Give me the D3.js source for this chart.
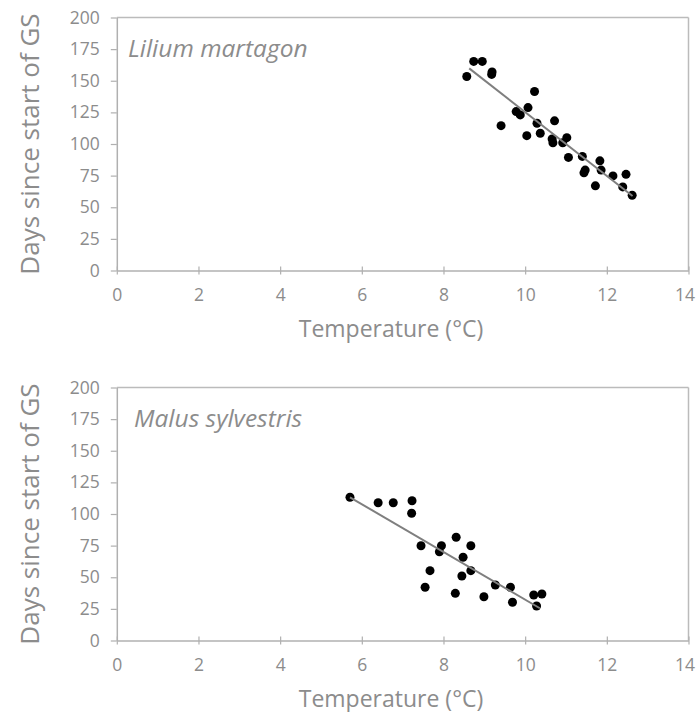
<!DOCTYPE html>
<html><head><meta charset="utf-8">
<script src="https://cdn.jsdelivr.net/npm/d3@7"></script>
<style>body{margin:0;background:#fff;} svg{display:block;} text{font-family:"Open Sans",sans-serif;}</style>
</head><body>
<script>
const xTicks = [0,2,4,6,8,10,12,14];
const yTicks = [0,25,50,75,100,125,150,175,200];
const xTitle = "Temperature (°C)";
const yTitle = "Days since start of GS";

const speciesNames = ["Lilium martagon","Malus sylvestris"];

const liliumTemp = [8.57,8.74,8.95,9.19,9.18,10.23,9.41,9.78,9.88,10.07,10.04,10.29,10.37,10.72,10.66,10.68,10.92,11.02,11.06,11.40,11.47,11.44,11.83,11.86,11.72,12.15,12.47,12.39,12.62];
const liliumDays = [153.4,165.3,165.3,156.9,155.0,141.5,114.5,125.6,123.0,128.8,106.6,116.4,108.5,118.3,104.0,101.0,101.0,105.0,89.4,90.2,79.4,77.2,86.7,79.4,66.9,74.8,76.0,66.1,59.5];
const liliumFitTemp = [8.63,12.63];
const liliumFitDays = [159.8,58.9];

const malusTemp = [5.71,6.40,6.77,7.23,7.22,8.31,7.45,7.95,7.90,8.67,8.48,8.67,8.45,7.67,7.55,8.29,8.99,9.27,9.64,9.69,10.21,10.41,10.28];
const malusDays = [113.2,108.9,108.9,110.5,100.6,81.6,74.9,74.9,70.2,74.9,65.8,55.2,51.0,55.2,42.1,37.3,34.6,43.9,42.1,30.2,36.0,36.8,27.3];
const malusFitTemp = [5.71,10.36];
const malusFitDays = [113.2,25.5];

const W = 696, H = 712;
const svg = d3.select("body").append("svg").attr("width",W).attr("height",H);
const gray = "#8c8c8c", axisCol = "#b0b0b0";

function panel(top, name, temps, days, fitT, fitD, labelX) {
  const x = d3.scaleLinear().domain([0,14]).range([116.8,688.5]);
  const y = d3.scaleLinear().domain([0,200]).range([top+253, top]);
  const g = svg.append("g");
  g.append("line").attr("x1",x(0)).attr("x2",x(14)).attr("y1",y(200)).attr("y2",y(200)).attr("stroke","#bbb").attr("stroke-width",1.5);
  g.append("line").attr("x1",x(14)).attr("x2",x(14)).attr("y1",y(200)).attr("y2",y(0)).attr("stroke","#bbb").attr("stroke-width",1.5);
  const xa = g.append("g").attr("transform",`translate(0,${y(0)})`)
    .call(d3.axisBottom(x).tickValues(xTicks).tickSize(5).tickPadding(13).tickSizeOuter(0));
  const ya = g.append("g").attr("transform",`translate(${x(0)},0)`)
    .call(d3.axisLeft(y).tickValues(yTicks).tickSize(6).tickPadding(11).tickSizeOuter(0));
  [xa,ya].forEach(a=>{
    a.select(".domain").attr("stroke",axisCol).attr("stroke-width",1.5);
    a.selectAll(".tick line").attr("stroke",axisCol).attr("stroke-width",1.2);
    a.selectAll(".tick text").attr("fill",gray).style("font-size","17.5px").style("font-family","'Open Sans',sans-serif");
  });
  xa.selectAll(".tick line").attr("y1",-4).attr("y2",4);
  xa.selectAll(".tick text").filter(d=>d===14).attr("dx",-4);
  g.append("text").attr("x",391).attr("y",y(0)+66).attr("text-anchor","middle")
    .attr("fill",gray).style("font-size","23px").text(xTitle);
  g.append("text").attr("transform",`translate(39,${(y(0)+y(200))/2}) rotate(-90)`).attr("text-anchor","middle")
    .attr("fill",gray).style("font-size","26px").text(yTitle);
  g.append("text").attr("x",labelX).attr("y",y(175)+8).attr("fill",gray)
    .style("font-size","24.5px").style("font-style","italic").text(name);
  const pts = temps.map((t,i)=>({t, d:days[i]}));
  g.selectAll("circle").data(pts).join("circle")
    .attr("cx",p=>x(p.t)).attr("cy",p=>y(p.d)).attr("r",4.5).attr("fill","#000");
  const fit = fitT.map((t,i)=>({t,d:fitD[i]}));
  g.append("path").datum(fit).attr("d",d3.line().x(p=>x(p.t)).y(p=>y(p.d)))
    .attr("stroke","#7f7f7f").attr("stroke-width",2).attr("fill","none");
}

panel(17.5, speciesNames[0], liliumTemp, liliumDays, liliumFitTemp, liliumFitDays, 128);
panel(387.5, speciesNames[1], malusTemp, malusDays, malusFitTemp, malusFitDays, 134);
</script>
</body></html>
